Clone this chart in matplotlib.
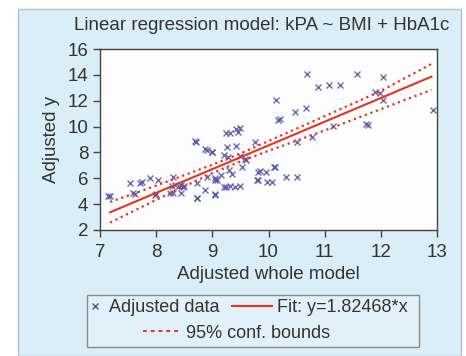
import matplotlib
matplotlib.use("Agg")
import matplotlib.pyplot as plt
from matplotlib.lines import Line2D
from matplotlib.patches import Rectangle

plt.rcParams['font.family'] = ['Liberation Sans', 'DejaVu Sans']

# --- data ---
adj_x = [7.14, 7.17, 7.53, 7.58, 7.62, 7.71, 7.74, 7.89, 7.98, 8.03,
         8.00, 8.25, 8.28, 8.30, 8.30, 8.34, 8.40, 8.44, 8.45, 8.50,
         8.69, 8.71, 8.72, 8.72, 8.72, 8.87, 8.87, 8.90, 8.90, 8.99,
         9.00, 9.05, 9.05, 9.05, 9.08, 9.16, 9.20, 9.21, 9.24, 9.25,
         9.26, 9.28, 9.30, 9.31, 9.31, 9.35, 9.40, 9.42, 9.43, 9.45,
         9.49, 9.49, 9.50, 9.52, 9.58, 9.60, 9.76, 9.80, 9.82, 9.82,
         9.85, 9.96, 9.98, 10.06, 10.10, 10.11, 10.14, 10.17, 10.20, 10.32,
         10.47, 10.50, 10.50, 10.66, 10.68, 10.77, 10.88, 11.08, 11.15, 11.27,
         11.58, 11.74, 11.78, 11.89, 11.98, 12.04, 12.04, 12.93, 9.05, 8.47]
adj_y = [4.60, 4.63, 5.60, 4.90, 4.80, 5.60, 5.70, 6.00, 4.70, 5.90,
         4.80, 4.84, 5.40, 6.10, 4.85, 5.45, 5.40, 5.50, 4.85, 5.40,
         8.88, 8.83, 5.60, 4.45, 4.47, 8.24, 5.10, 6.10, 8.20, 8.06,
         8.00, 5.87, 4.70, 6.00, 5.87, 6.25, 5.30, 7.80, 9.50, 5.35,
         8.44, 7.67, 6.64, 9.50, 5.40, 6.30, 5.30, 8.50, 9.85, 9.60,
         9.86, 7.70, 5.40, 6.90, 7.48, 7.40, 8.83, 5.87, 6.50, 5.87,
         6.60, 6.50, 5.70, 5.70, 6.90, 6.90, 12.05, 10.50, 10.56, 6.10,
         11.15, 6.12, 8.83, 11.40, 14.06, 9.16, 13.04, 13.20, 10.04, 13.20,
         14.06, 10.20, 10.15, 12.70, 12.57, 13.80, 12.05, 11.28, 4.75, 5.30]

fit_x = [7.18, 12.90]
fit_y = [3.37, 13.86]

bound_x = [7.18, 8.0, 9.0, 9.5, 10.0, 11.0, 12.0, 12.90]
upper_y = [4.17, 5.43, 7.05, 7.92, 8.88, 10.80, 12.75, 14.84]
lower_y = [2.57, 4.33, 6.40, 7.30, 8.12, 9.70, 11.35, 12.84]

DATA_C = '#5252a8'
RED = '#e8321e'
TXT = '#333333'
W, H = 466, 356


def fx(px):
    return px / W


def fy(py):
    return 1 - py / H


fig = plt.figure(figsize=(W / 100, H / 100), dpi=100)
fig.patch.set_facecolor('white')

# light blue panel behind everything
fig.patches.append(Rectangle((fx(18), 0), fx(461) - fx(18), fy(9),
                             transform=fig.transFigure, facecolor='#dbeef8',
                             edgecolor='#a9c3d3', linewidth=1.0, zorder=-10))

ax = fig.add_axes([fx(100), fy(230), fx(437) - fx(100), fy(49) - fy(230)])
ax.set_facecolor('#fdfdfd')

ax.plot(adj_x, adj_y, 'x', color=DATA_C, markersize=5, markeredgewidth=1.0,
        alpha=0.85, zorder=2)
ax.plot(fit_x, fit_y, '-', color=RED, linewidth=1.5, zorder=3)
ax.plot(bound_x, upper_y, ':', color=RED, linewidth=1.6, zorder=3)
ax.plot(bound_x, lower_y, ':', color=RED, linewidth=1.6, zorder=3)

ax.set_xlim(7, 13)
ax.set_ylim(2, 16)
ax.set_xticks(range(7, 14))
ax.set_yticks(range(2, 17, 2))
ax.tick_params(direction='out', length=5, width=1, colors='#444444',
               labelsize=13.5, labelcolor=TXT, top=False, right=False)
ax.tick_params(axis='x', pad=5)
for s in ax.spines.values():
    s.set_color('#444444')
    s.set_linewidth(1.0)

ax.set_xlabel('Adjusted whole model', fontsize=13.5, color=TXT, labelpad=4)
ax.set_ylabel('Adjusted y', fontsize=13.5, color=TXT, labelpad=5)
fig.text(fx(262), fy(26), 'Linear regression model: kPA ~ BMI + HbA1c',
         ha='center', va='center', fontsize=13.5, color=TXT)

# --- legend, built from three small frameless legends inside one frame ---
fig.patches.append(Rectangle((fx(87), fy(347)), fx(419) - fx(87), fy(295) - fy(347),
                             transform=fig.transFigure, facecolor='#e2f1f9',
                             edgecolor='#8a8a8a', linewidth=1.0, zorder=-5))

h_data = Line2D([], [], linestyle='none', marker='x', color=DATA_C,
                markersize=4, markeredgewidth=1.0)
h_fit = Line2D([], [], color=RED, linewidth=1.5)
h_bnd = Line2D([], [], color=RED, linewidth=1.4, linestyle=(0, (2, 2)))

legend_items = [
    (h_data, 'Adjusted data', 86, 308, 1.0, 0.3),
    (h_fit, 'Fit: y=1.82468*x', 232, 308, 2.2, 0.28),
    (h_bnd, '95% conf. bounds', 143, 333, 1.95, 0.45),
]
for h, lab, lx, ly, hl, tp in legend_items:
    lg = fig.legend([h], [lab], loc='center left', bbox_to_anchor=(fx(lx), fy(ly)),
                    fontsize=13, frameon=False, handlelength=hl,
                    handletextpad=tp, borderpad=0.0, borderaxespad=0.0)
    for t in lg.get_texts():
        t.set_color(TXT)

fig.savefig('out.png', dpi=100)
